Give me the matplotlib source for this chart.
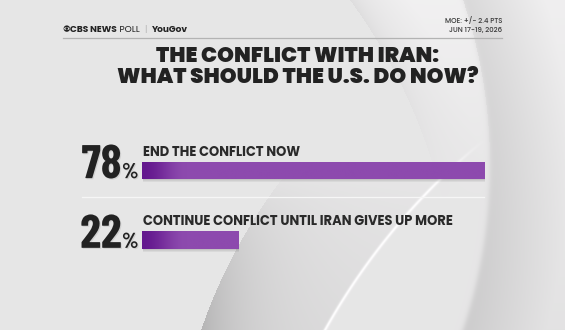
import numpy as np
import matplotlib
matplotlib.use("Agg")
import matplotlib.pyplot as plt
from matplotlib import transforms
from matplotlib import patheffects
from matplotlib.patches import Circle, Ellipse

# ----------------- Data -----------------
title_lines = ["THE CONFLICT WITH IRAN:", "WHAT SHOULD THE U.S. DO NOW?"]
answers = ["END THE CONFLICT NOW", "CONTINUE CONFLICT UNTIL IRAN GIVES UP MORE"]
shares = [78, 22]
moe_lines = ["MOE: +/- 2.4 PTS", "JUN 17-19, 2026"]
header_parts = [("CBS NEWS", 700, "#222222"), (" POLL", 400, "#222222"),
                ("  |  ", 300, "#aaaaaa"), ("YouGov", 700, "#222222")]

W, H = 565, 330
DARK = "#222222"
SANS = ["Poppins", "DejaVu Sans"]
COND = ["Barlow Condensed", "DejaVu Sans"]
PURPLE_DARK = np.array([0x64, 0x18, 0x8e]) / 255
PURPLE = np.array([0x8d, 0x4a, 0xae]) / 255

fig = plt.figure(figsize=(W / 100, H / 100), dpi=100)

# ----------------- Background (pixel coords) -----------------
bg = fig.add_axes([0, 0, 1, 1])
bg.set_xlim(0, W)
bg.set_ylim(H, 0)
bg.axis("off")

yy, xx = np.mgrid[0:H, 0:W] + 0.5
val = np.full((H, W), 0.905)

# darker region on the right, outside the big disc
d_right = np.hypot(xx + 28, yy - 165) - 518
s_right = 1 / (1 + np.exp(-d_right / 1.5))
right_val = 0.80 + 0.09 * np.clip(d_right / 80, 0, 1) + 0.05 * (1 - yy / H)
val = val * (1 - s_right) + right_val * s_right

# light swoosh band near the top with a soft shadow on its left edge
d_top = np.hypot(xx + 100, yy - 330) - 558
band = (d_top > 0) & (d_right < 0)
fade_top = np.clip(1 - yy / 200, 0, 1)
val += np.where(band, (0.04 * np.clip(d_top / 50, 0, 1) - 0.035 * np.exp(-d_top / 10)) * fade_top, 0)

# gray crescent at the bottom, left of the white stroke
d_white = np.hypot(xx - 900, yy - 650) - 658
d_left = np.hypot(xx - 700, yy - 500) - 527
cres = (d_left < 0) & (d_white > 0)
fade_bot = np.clip((yy - 170) / 160, 0, 1)
val -= np.where(cres, 0.16 * np.exp(d_left / 45) * fade_bot + 0.035 * fade_bot, 0)

# white stroke
stroke = np.exp(-(d_white / 1.5) ** 2) * np.clip((yy - 140) / 50, 0, 1)
val = val * (1 - stroke) + 0.995 * stroke

img = np.clip(np.dstack([val, val * 0.997, val]), 0, 1)
bg.imshow(img, extent=(0, W, H, 0), interpolation="bilinear", zorder=0, aspect="auto")

# ----------------- Header -----------------
bg.plot([63, 502], [37.5, 37.5], color="#b3b3b3", lw=0.9, zorder=2)
bg.add_patch(Ellipse((66.8, 28.6), 6.4, 6.4, facecolor=DARK, edgecolor="none", zorder=3))
bg.add_patch(Ellipse((66.8, 28.6), 5.4, 2.9, facecolor="#e8e8e8", edgecolor="none", zorder=4))
bg.add_patch(Circle((66.8, 28.6), 1.3, facecolor=DARK, edgecolor="none", zorder=5))

renderer = fig.canvas.get_renderer()
x_disp = bg.transData.transform((70.5, 32))[0]
for txt, wt, col in header_parts:
    t = fig.text(x_disp / fig.bbox.width, 1 - 32 / H, txt, fontsize=6.5, fontweight=wt,
                 color=col, family=SANS, va="baseline", zorder=3)
    x_disp = t.get_window_extent(renderer).x1

for i, line in enumerate(moe_lines):
    bg.text(502, 23.3 + i * 8.4, line, fontsize=5.0, fontweight=500, color="#3a3a3a",
            family=SANS, ha="right", va="baseline", zorder=3)

# ----------------- Title -----------------
for i, line in enumerate(title_lines):
    bg.text(297.5, 62 + i * 21.3, line, fontsize=15.4, fontweight=900, color=DARK,
            family=SANS, ha="center", va="baseline", zorder=3)

# separator between the two answers
bg.plot([82, 484], [197, 197], color="#f6f6f6", lw=0.9, zorder=2)

# ----------------- Bars -----------------
top_px, step_px = 170.3, 69.7
ax = fig.add_axes([142 / W, 1 - (top_px + 1.5 * step_px) / H, 438.5 / W, 2 * step_px / H])
ax.axis("off")
ax.patch.set_alpha(0)

pos = np.arange(len(shares))
h = 0.245
grad_len = 10  # data units of the dark-to-light fade at the bar start

for k, a in zip([0.10, 0.10, 0.12], [3.5, 2.5, 1.5]):
    shadow = transforms.offset_copy(ax.transData, fig=fig, x=1.0, y=-a, units="dots")
    ax.barh(pos, shares, height=h, color="#6f6f6f", alpha=k, transform=shadow, zorder=1)

bars = ax.barh(pos, shares, height=h, color="none", edgecolor="none", zorder=2)
for rect, v in zip(bars, shares):
    xs = np.linspace(0, v, 300)
    t = np.clip(xs / grad_len, 0, 1)
    t = t * t * (3 - 2 * t)
    cols = PURPLE_DARK[None, :] * (1 - t[:, None]) + PURPLE[None, :] * t[:, None]
    y0 = rect.get_y()
    im = ax.imshow(cols[None, :, :], extent=(0, v, y0 + h, y0), aspect="auto",
                   interpolation="bilinear", zorder=3)
    im.set_clip_path(rect)
ax.set_xlim(0, 100)
ax.set_ylim(1.5, -0.5)

label_tr = transforms.offset_copy(ax.transData, fig=fig, y=6, units="dots")
num_tr = transforms.blended_transform_factory(bg.transData, ax.transData)
num_fx = [patheffects.withSimplePatchShadow(offset=(0.8, -0.8), shadow_rgbFace="#777777", alpha=0.18)]
for p, ans, v in zip(pos, answers, shares):
    ax.text(0.3, p - h / 2, ans, transform=label_tr, fontsize=9.4, fontweight=700,
            color="#2a2a2a", family=SANS, va="baseline", zorder=4)
    ax.text(121.5, p + h / 2 - 0.01, f"{v}", transform=num_tr, fontsize=34, fontweight=700,
            color=DARK, family=COND, ha="right", va="baseline", zorder=4, path_effects=num_fx)
    ax.text(122, p + h / 2 - 0.01, "%", transform=num_tr, fontsize=15.5, fontweight=700,
            color=DARK, family=COND, ha="left", va="baseline", zorder=4, path_effects=num_fx)

fig.savefig("out.png", dpi=100)
